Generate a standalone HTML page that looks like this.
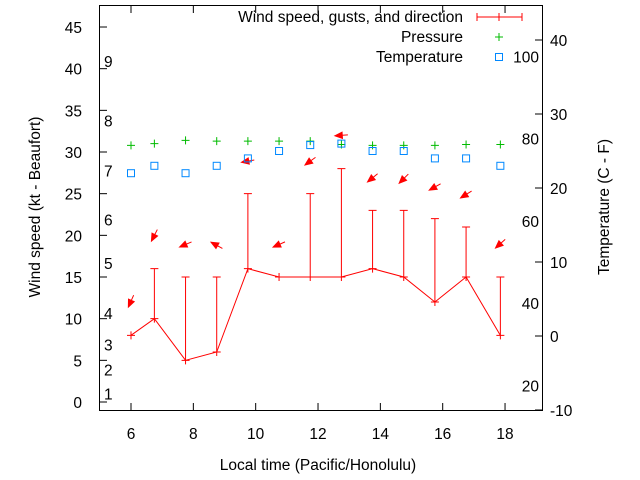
<!DOCTYPE html>
<html><head><meta charset="utf-8"><style>
body{margin:0;background:#fff}
svg{display:block;font-family:"Liberation Sans",sans-serif;font-size:15.5px}
</style></head><body>
<svg id="chart" width="640" height="480" viewBox="0 0 640 480" xmlns="http://www.w3.org/2000/svg">
<rect x="99.5" y="5.5" width="443" height="405" fill="none" stroke="#000"/>
<g id="axes"></g>
<g id="marks"></g>
<text x="40" y="207" text-anchor="middle" transform="rotate(-90 40 207)">Wind speed (kt - Beaufort)</text>
<text x="609" y="207" text-anchor="middle" transform="rotate(-90 609 207)">Temperature (C - F)</text>
<text x="318" y="470" text-anchor="middle">Local time (Pacific/Honolulu)</text>
<g>
<text x="463" y="22" text-anchor="end">Wind speed, gusts, and direction</text>
<path d="M477 17H522M477 13V21M522 13V21M499 13V21" stroke="#f00" fill="none"/>
<text x="463" y="42" text-anchor="end">Pressure</text>
<path d="M495 37H503M499 33V41" stroke="#0b0"/>
<text x="463" y="62" text-anchor="end">Temperature</text>
<rect x="495.5" y="53.5" width="7" height="7" fill="none" stroke="#08f"/>
</g>
</svg>
<script>
const times=[6,6.75,7.75,8.75,9.75,10.75,11.75,12.75,13.75,14.75,15.75,16.75,17.85];
const wind=[8,10,5,6,16,15,15,15,16,15,12,15,8];
const gusts=[null,16,15,15,25,null,25,28,23,23,22,21,15];
const windFrom=[24,27,67,119,80,66,54,86,51,45,61,58,48];
const arrowLevel=[12.1,20,18.9,18.8,28.9,18.9,28.9,32,26.9,26.8,25.8,24.9,19];
const pressure=[30.8,31.0,31.4,31.3,31.3,31.3,31.3,30.9,30.8,30.8,30.8,30.9,30.9];
const tempC=[22,23,22,23,24,25,25.8,26,25,25,24,24,23];
const xTicks=[6,8,10,12,14,16,18];
const yTicks=[0,5,10,15,20,25,30,35,40,45];
const cTicks=[-10,0,10,20,30,40];
const fTicks=[20,40,60,80,100];
const beaufort=[1,2,3,4,5,6,7,8,9];
const beaufortAt=[1,3.9,6.9,10.7,16.7,21.9,27.8,33.8,40.9];

const X=t=>131+(t-6)*31.17;
const Y=v=>402-v*8.333;
const YC=c=>336-c*7.4;
const YF=f=>YC((f-32)*5/9);
const NS="http://www.w3.org/2000/svg";
function mk(tag,attrs,parent,txt){const e=document.createElementNS(NS,tag);for(const k in attrs)e.setAttribute(k,attrs[k]);if(txt!==undefined)e.textContent=txt;parent.appendChild(e);return e;}
const ax=document.getElementById('axes'),mg=document.getElementById('marks');
xTicks.forEach(t=>{const x=X(t);
 const l=mk('path',{d:`M${x} 410V403M${x} 6V13`,stroke:'#000'},ax);
 
 
 const tx=mk('text',{x:x,y:439,'text-anchor':'middle'},ax,t);
 
 });
yTicks.forEach(v=>{const y=Y(v);
 const l=mk('path',{d:`M100 ${y}H107`,stroke:'#000'},ax);
 
 
 const tx=mk('text',{x:82,y:y+6,'text-anchor':'end'},ax,v);
 
 });
cTicks.forEach(c=>{const y=YC(c);
 const l=mk('path',{d:`M542 ${y}H535`,stroke:'#000'},ax);
 
 
 const tx=mk('text',{x:550,y:y+6},ax,c);
 
 });
fTicks.forEach(f=>{const tx=mk('text',{x:539,y:YF(f)+6,'text-anchor':'end'},ax,f);
 
 });
beaufort.forEach((b,i)=>{const tx=mk('text',{x:104,y:Y(beaufortAt[i])+6},ax,b);
 
 });
const wl=mk('polyline',{points:times.map((t,i)=>X(t)+','+Y(wind[i])).join(' '),fill:'none',stroke:'#f00'},mg);


times.forEach((t,i)=>{const x=X(t),y=Y(wind[i]);
 let d=`M${x-4} ${y}H${x+4}M${x} ${y-4}V${y+4}`;
 if(gusts[i]!==null){const g=Y(gusts[i]);d+=`M${x} ${y}V${g}M${x-4} ${g}H${x+4}`;}
 const p=mk('path',{d:d,stroke:'#f00',fill:'none'},mg);
 
 
 const to=(windFrom[i]+180)*Math.PI/180;const dx=Math.sin(to)*6.5,dy=-Math.cos(to)*6.5;const cy=Y(arrowLevel[i]);
 const hx=x+dx,hy=cy+dy,tx=x-dx,ty=cy-dy;const ang=Math.atan2(dy,dx);
 const a1x=hx-8*Math.cos(ang-0.4),a1y=hy-8*Math.sin(ang-0.4),a2x=hx-8*Math.cos(ang+0.4),a2y=hy-8*Math.sin(ang+0.4);
 const ar=mk('path',{d:`M${tx} ${ty}L${hx} ${hy}M${hx} ${hy}L${a1x} ${a1y}L${a2x} ${a2y}Z`,stroke:'#f00',fill:'#f00'},mg);
 
 
 const py=Y(pressure[i]);
 const pp=mk('path',{d:`M${x-4} ${py}H${x+4}M${x} ${py-4}V${py+4}`,stroke:'#0b0'},mg);
 
 
 const ty2=YC(tempC[i]);
 const sq=mk('rect',{x:x-3.5,y:ty2-3.5,width:7,height:7,fill:'none',stroke:'#08f'},mg);
 
 
});
</script>
</body></html>
